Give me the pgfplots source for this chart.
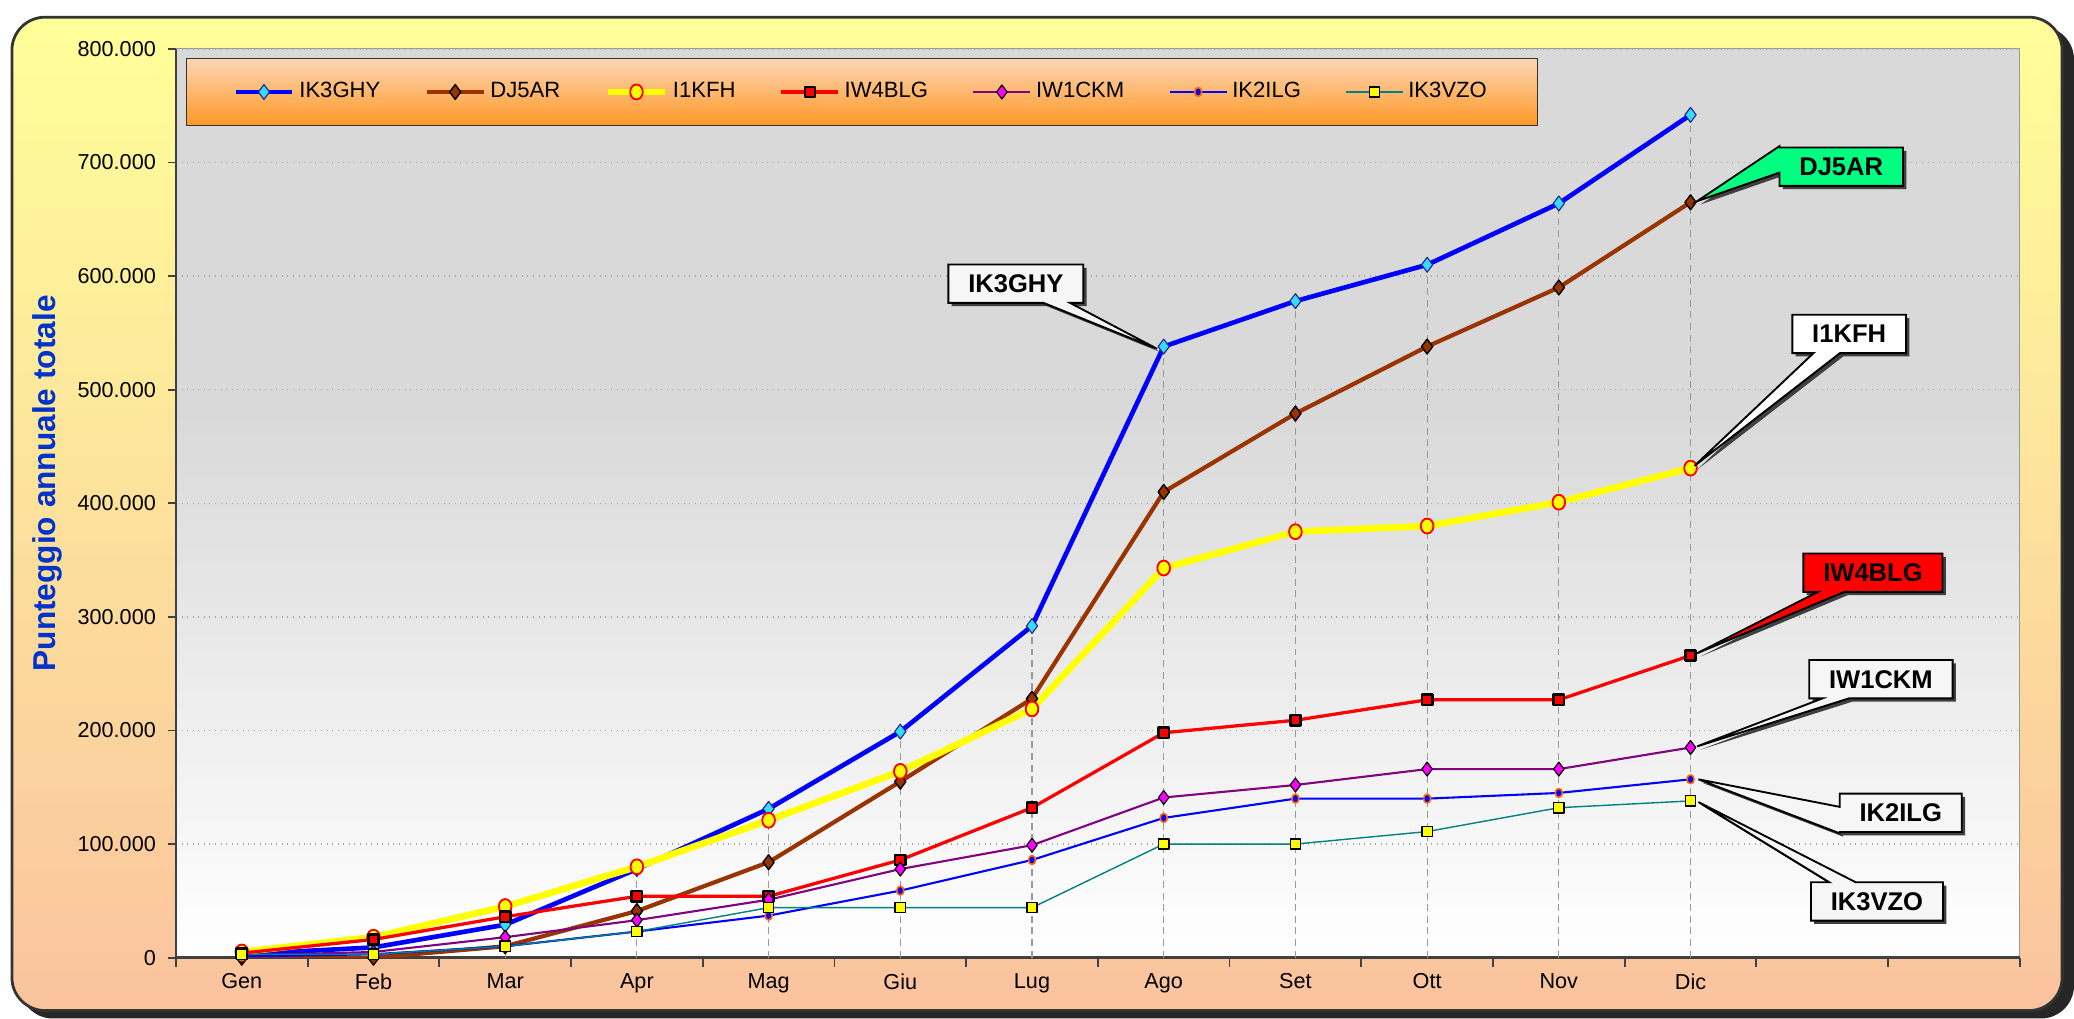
\documentclass[border=0pt]{standalone}
\usepackage{fontspec}
\setmainfont{Liberation Sans}
\usepackage{pgfplots}
\pgfplotsset{compat=1.18}
\usetikzlibrary{shapes.callouts,shadows}

\definecolor{bgtop}{RGB}{255,255,153}
\definecolor{bgbot}{RGB}{250,195,158}
\definecolor{plotgray}{RGB}{217,217,217}
\definecolor{legtop}{RGB}{251,214,180}
\definecolor{legbot}{RGB}{255,152,38}
\definecolor{cBlue}{RGB}{0,0,255}
\definecolor{cCyan}{RGB}{51,221,255}
\definecolor{cNavy}{RGB}{40,40,140}
\definecolor{cBrown}{RGB}{153,51,0}
\definecolor{cYel}{RGB}{255,255,0}
\definecolor{cRed}{RGB}{255,0,0}
\definecolor{cPur}{RGB}{128,0,128}
\definecolor{cMag}{RGB}{255,0,255}
\definecolor{cTeal}{RGB}{0,128,128}
\definecolor{cOrange}{RGB}{255,102,0}
\definecolor{cGreen}{RGB}{0,255,128}
\definecolor{ylabblue}{RGB}{0,51,204}

\pgfdeclareverticalshading{plotbg}{100bp}{color(0bp)=(white); color(25bp)=(white); color(55bp)=(plotgray); color(75bp)=(plotgray); color(100bp)=(plotgray)}

\begin{document}
\begin{tikzpicture}
\useasboundingbox (0,0) rectangle (31.36,15.40);
% outer frame with shadow
\fill[black!85, rounded corners=0.5cm] (0.30,0.0) rectangle (31.36,15.0);
\draw[line width=1.2pt, black!80, rounded corners=0.5cm, top color=bgtop, bottom color=bgbot] (0.18,0.12) rectangle (31.18,15.14);

\begin{axis}[
  at={(2.66cm,0.92cm)}, anchor=south west,
  scale only axis, width=27.88cm, height=13.74cm,
  xmin=-0.5, xmax=13.5, ymin=0, ymax=800000,
  scaled y ticks=false,
  axis background/.style={shading=plotbg, draw=gray!80},
  axis x line*=bottom, axis y line*=left,
  axis line style={-, black!75, line width=1pt},
  xtick={0,...,11},
  xticklabels={Gen,Feb,Mar,Apr,Mag,Giu,Lug,Ago,Set,Ott,Nov,Dic},
  minor xtick={-0.5,0.5,...,13.5},
  major x tick style={draw=none},
  minor x tick style={black!75, line width=0.8pt},
  minor tick length=0.14cm,
  major tick length=0.12cm,
  y tick style={black!75, line width=0.8pt},
  tick align=outside,
  ytick={0,100000,200000,300000,400000,500000,600000,700000,800000},
  yticklabels={0,100.000,200.000,300.000,400.000,500.000,600.000,700.000,800.000},
  x tick label style={font=\fontsize{9.3}{11}\selectfont},
  y tick label style={font=\fontsize{9.3}{11}\selectfont, xshift=-0.06cm},
  ymajorgrids, grid style={dotted, gray!70, line width=0.6pt},
  ylabel={Punteggio annuale totale},
  every axis y label/.style={at={(axis description cs:-0.0696,0.522)}, rotate=90, anchor=center, font=\bfseries\fontsize{13.6}{15}\selectfont, text=ylabblue},
  legend columns=7,
  legend cell align=left,
  legend style={at={(rel axis cs:0.0057,0.9898)}, anchor=north west, draw=black!80, top color=legtop, bottom color=legbot, inner xsep=0.7cm, inner ysep=0.29cm, font=\fontsize{9.5}{11}\selectfont, /tikz/every even column/.append style={column sep=0.6cm}},
  legend image code/.code={\draw[mark repeat=2,mark phase=2] plot coordinates {(0cm,0cm) (0.43cm,0cm) (0.86cm,0cm)};},
  line join=round,
]
% drop lines
\addplot[ycomb, densely dashed, gray!80, line width=0.5pt, forget plot] coordinates {
(0,5000)(1,18000)(2,45000)(3,80000)(4,131000)(5,199000)(6,292000)(7,538000)(8,578000)(9,610000)(10,664000)(11,742000)};

\addplot[cBlue, line width=2pt, mark=diamond*, mark size=3.2pt, mark options={fill=cCyan, draw=cNavy, line width=0.5pt}] coordinates {
(0,3000)(1,9000)(2,29000)(3,78000)(4,131000)(5,199000)(6,292000)(7,538000)(8,578000)(9,610000)(10,664000)(11,742000)};
\addlegendentry{IK3GHY}
\addplot[cBrown, line width=1.8pt, mark=diamond*, mark size=3.2pt, mark options={fill=cBrown, draw=black, line width=0.6pt}] coordinates {
(0,0)(1,0)(2,10000)(3,41000)(4,84000)(5,155000)(6,228000)(7,410000)(8,479000)(9,538000)(10,590000)(11,665000)};
\addlegendentry{DJ5AR}
\addplot[cYel, line width=2.9pt, mark=*, mark size=3.2pt, mark options={fill=cYel, draw=cRed, line width=0.8pt, xscale=0.85}] coordinates {
(0,5000)(1,18000)(2,45000)(3,80000)(4,121000)(5,164000)(6,219000)(7,343000)(8,375000)(9,380000)(10,401000)(11,431000)};
\addlegendentry{I1KFH}
\addplot[cRed, line width=1.4pt, mark=square*, mark size=2.2pt, mark options={fill=cRed, draw=black, line width=1.1pt}] coordinates {
(0,4000)(1,16000)(2,36000)(3,54000)(4,54000)(5,86000)(6,132000)(7,198000)(8,209000)(9,227000)(10,227000)(11,266000)};
\addlegendentry{IW4BLG}
\addplot[cPur, line width=0.9pt, mark=diamond*, mark size=3.0pt, mark options={fill=cMag, draw=black, line width=0.5pt}] coordinates {
(0,2000)(1,5000)(2,18000)(3,33000)(4,51000)(5,78000)(6,99000)(7,141000)(8,152000)(9,166000)(10,166000)(11,185000)};
\addlegendentry{IW1CKM}
\addplot[cBlue, line width=0.9pt, mark=*, mark size=1.9pt, mark options={fill=cBlue, draw=cOrange, line width=0.7pt, xscale=0.8}] coordinates {
(0,1000)(1,3000)(2,10000)(3,23000)(4,37000)(5,59000)(6,86000)(7,123000)(8,140000)(9,140000)(10,145000)(11,157000)};
\addlegendentry{IK2ILG}
\addplot[cTeal, line width=0.6pt, mark=square*, mark size=2.2pt, mark options={fill=cYel, draw=black, line width=0.6pt}] coordinates {
(0,3000)(1,3000)(2,10000)(3,23000)(4,44000)(5,44000)(6,44000)(7,100000)(8,100000)(9,111000)(10,132000)(11,138000)};
\addlegendentry{IK3VZO}

\coordinate (pGHY) at (axis cs:6.95,536000);
\coordinate (pDJ) at (axis cs:11.05,666000);
\coordinate (pKFH) at (axis cs:11.03,433000);
\coordinate (pBLG) at (axis cs:11.05,268000);
\coordinate (pCKM) at (axis cs:11.05,186000);
\coordinate (pILG) at (axis cs:11.06,157000);
\coordinate (pVZO) at (axis cs:11.06,137000);
\end{axis}

\tikzset{co/.style={rectangle callout, draw=black, line width=0.8pt, font=\bfseries\fontsize{11}{13}\selectfont, minimum height=0.58cm, inner xsep=0.3cm, callout pointer width=0.4cm, drop shadow={shadow xshift=0.05cm, shadow yshift=-0.05cm, fill=black!75, opacity=1}}}
\node[co, fill=white!93!gray, callout absolute pointer={(pGHY)}] at (15.36,11.11) {IK3GHY};
\node[co, fill=cGreen, callout absolute pointer={(pDJ)}] at (27.84,12.88) {DJ5AR};
\node[co, fill=white, callout absolute pointer={(pKFH)}] at (27.96,10.35) {I1KFH};
\node[co, fill=cRed, callout absolute pointer={(pBLG)}] at (28.32,6.74) {IW4BLG};
\node[co, fill=white!93!gray, callout absolute pointer={(pCKM)}] at (28.44,5.13) {IW1CKM};
\node[co, fill=white!93!gray, callout absolute pointer={(pILG)}] at (28.74,3.11) {IK2ILG};
\node[co, fill=white!93!gray, callout absolute pointer={(pVZO)}] at (28.38,1.77) {IK3VZO};
\end{tikzpicture}
\end{document}
